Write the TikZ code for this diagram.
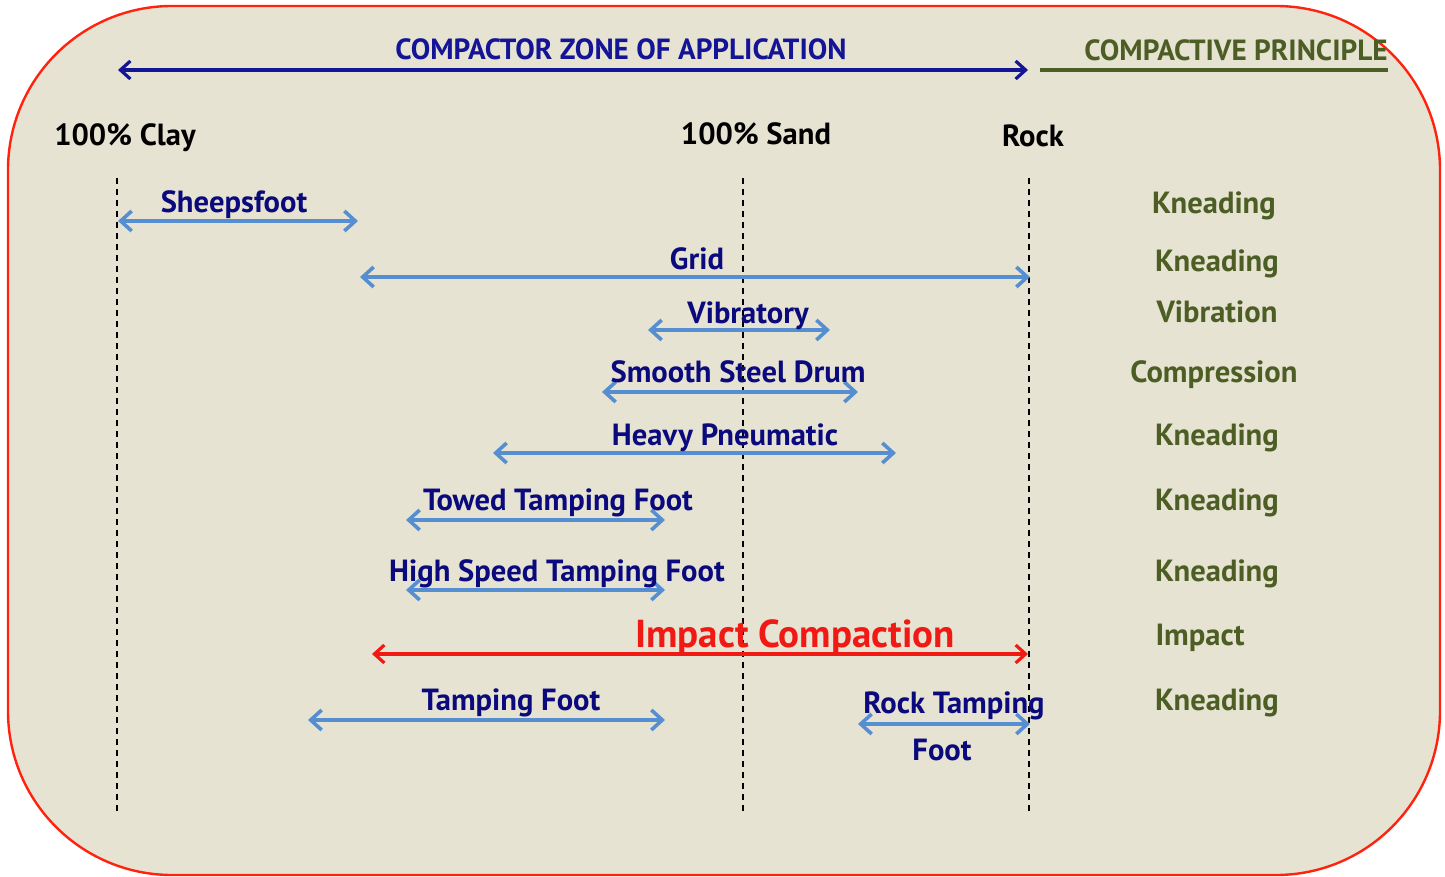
\documentclass[tikz,border=0pt]{standalone}
\usepackage{fontspec}
\setmainfont{PT Sans}
\usetikzlibrary{arrows.meta}

\definecolor{panelbg}{RGB}{231,227,211}
\definecolor{framered}{RGB}{255,35,15}
\definecolor{zoneblue}{RGB}{20,20,150}
\definecolor{toolnavy}{RGB}{10,10,125}
\definecolor{rangeblue}{RGB}{86,142,210}
\definecolor{principle}{RGB}{76,94,36}
\definecolor{impactred}{RGB}{240,25,20}

\begin{document}
\begin{tikzpicture}[
            x=0.5pt, y=-0.5pt,
            font=\bfseries\fontsize{15.3}{17}\selectfont,
            tool/.style={text=toolnavy, anchor=base, inner sep=0pt},
            soil/.style={text=black, anchor=base, inner sep=0pt},
            princ/.style={text=principle, anchor=base, inner sep=0pt},
            toolspan/.style={rangeblue, line width=2.2pt,
                {Straight Barb[length=5.5pt,width=10pt,line width=1.8pt]}-{Straight Barb[length=5.5pt,width=10pt,line width=1.8pt]}},
            guide/.style={black, line width=0.8pt, dash pattern=on 3pt off 2.5pt}
        ]
            \useasboundingbox (0,0) rectangle (1445,877);
            \fill[white] (0,0) rectangle (1445,877);
            \filldraw[fill=panelbg, draw=framered, line width=1.2pt, rounded corners=82pt]
                (8,6) rectangle (1440,875);

            % head row
            \coordinate (zoneL) at (118,70);
            \coordinate (zoneR) at (1028,70);
            \draw[zoneblue, line width=1.6pt,
                {Straight Barb[length=5pt,width=9pt]}-{Straight Barb[length=5pt,width=9pt]}] (zoneL) -- (zoneR);
            \node[tool, text=zoneblue, font=\bfseries\fontsize{14.6}{16}\selectfont] (zone) at (621,60) {COMPACTOR ZONE OF APPLICATION};
            \coordinate (princL) at (1040,70);
            \coordinate (princR) at (1388,70);
            \draw[principle, line width=2pt] (princL) -- (princR);
            \node[princ, font=\bfseries\fontsize{14.6}{16}\selectfont] (principle) at (1236,61) {COMPACTIVE PRINCIPLE};

            \node[soil] (clay) at (125,146) {100\% Clay};
            \node[soil] (sand) at (756,145) {100\% Sand};
            \node[soil] (rock) at (1033,147) {Rock};

            % soil limits
            \foreach \n/\x in {clay/117,sand/743,rock/1029} {
                \coordinate (\n top) at (\x,178);
                \coordinate (\n bot) at (\x,812);
                \draw[guide] (\n top) -- (\n bot);
            }

            % compactor ranges
            \foreach \n/\a/\b/\y in {sheep/118/358/221, grid/360/1030/277, vibr/648/830/330,
                    drum/602/858/392, pneu/493/896/453, towed/406/665/520,
                    speed/406/665/590, tamp/308/665/720, rtamp/858/1030/724} {
                \coordinate (\n L) at (\a,\y);
                \coordinate (\n R) at (\b,\y);
                \draw[toolspan] (\n L) -- (\n R);
            }
            \coordinate (impL) at (372,654);
            \coordinate (impR) at (1028,654);
            \draw[impactred, line width=1.6pt,
                {Straight Barb[length=5pt,width=9pt]}-{Straight Barb[length=5pt,width=9pt]}] (impL) -- (impR);

            \node[tool] (sheeplab) at (234,213) {Sheepsfoot};
            \node[tool] (gridlab) at (697,270) {Grid};
            \node[tool] (vibrlab) at (748,323) {Vibratory};
            \node[tool] (drumlab) at (738,382) {Smooth Steel Drum};
            \node[tool] (pneulab) at (725,445) {Heavy Pneumatic};
            \node[tool] (towedlab) at (558,510) {Towed Tamping Foot};
            \node[tool] (speedlab) at (557,581) {High Speed Tamping Foot};
            \node[tool, text=impactred, font=\bfseries\fontsize{19.5}{21}\selectfont] (implab) at (795,647) {Impact Compaction};
            \node[tool] (tamplab) at (511,710) {Tamping Foot};
            \node[tool] (rtamplab) at (954,713) {Rock Tamping};
            \node[tool] (rfootlab) at (942,760) {Foot};

            % principle column
            \node[princ] (p1) at (1214,214) {Kneading};
            \node[princ] (p2) at (1217,271) {Kneading};
            \node[princ] (p3) at (1217,322) {Vibration};
            \node[princ] (p4) at (1214,382) {Compression};
            \node[princ] (p5) at (1217,445) {Kneading};
            \node[princ] (p6) at (1217,510) {Kneading};
            \node[princ] (p7) at (1217,581) {Kneading};
            \node[princ] (p8) at (1200,645) {Impact};
            \node[princ] (p9) at (1217,710) {Kneading};
        \end{tikzpicture}
\end{document}
